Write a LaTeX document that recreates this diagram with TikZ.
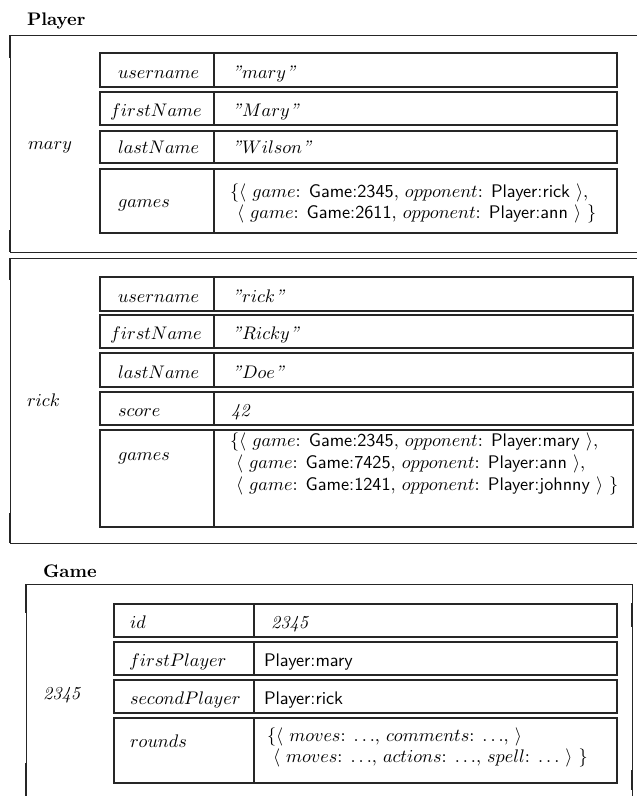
\documentclass[tikz,border=0pt]{standalone}
\begin{document}
\begin{tikzpicture}[x=0.549pt,y=-0.549pt,
  frame/.style={line width=0.5pt, draw=black!85},
  edgebit/.style={line width=1.1pt, draw=black!85},
  cell/.style={line width=0.6pt, draw=black!85},
  txt/.style={anchor=base west, inner sep=0pt, outer sep=0pt},
  title/.style={txt, font=\bfseries}]
\useasboundingbox (0,0) rectangle (636,796);

% ---------------- Player ----------------
\node[title] (tPlayer) at (27,25) {Player};

% mary frame
\draw[frame] (660,35) -- (10,35) -- (10,252) -- (660,252);
\draw[edgebit] (10,35) -- (10,58);
\draw[edgebit] (10,230) -- (10,252);
\node[txt] (lmary) at (28,149) {$mary$};

\draw[cell] (100,53) rectangle (617,87);   \draw[cell] (214,53) -- (214,87);
\draw[cell] (100,92) rectangle (617,125);  \draw[cell] (214,92) -- (214,125);
\draw[cell] (100,131) rectangle (617,163); \draw[cell] (214,131) -- (214,163);
\draw[cell] (100,169) rectangle (617,233); \draw[cell] (214,169) -- (214,233);

\node[txt] (mk1) at (118,78)  {$username$};
\node[txt] (mk2) at (110,116) {$firstName$};
\node[txt] (mk3) at (118,153) {$lastName$};
\node[txt] (mk4) at (118,207) {$games$};
\node[txt] (mv1) at (232,78)  {\textit{”}$mary$\textit{”}};
\node[txt] (mv2) at (232,116) {\textit{”}$Mary$\textit{”}};
\node[txt] (mv3) at (232,153) {\textit{”}$Wilson$\textit{”}};
\node[txt] (mv4a) at (230,197) {$\{\langle$ $game$: \textsf{Game:2345}, $opponent$: \textsf{Player:rick} $\rangle$,};
\node[txt] (mv4b) at (237,218) {$\langle$ $game$: \textsf{Game:2611}, $opponent$: \textsf{Player:ann} $\rangle$ $\}$};

% rick frame
\draw[frame] (660,258) -- (10,258) -- (10,543) -- (660,543);
\draw[edgebit] (10,258) -- (10,280);
\draw[edgebit] (10,513) -- (10,543);
\node[txt] (lrick) at (27,406) {$rick$};

\draw[cell] (100,277) rectangle (633,311); \draw[cell] (214,277) -- (214,311);
\draw[cell] (100,315) rectangle (633,348); \draw[cell] (214,315) -- (214,348);
\draw[cell] (100,353) rectangle (633,387); \draw[cell] (214,353) -- (214,387);
\draw[cell] (100,392) rectangle (633,425); \draw[cell] (214,392) -- (214,425);
\draw[cell] (100,430) rectangle (633,527); \draw[cell] (214,430) -- (214,527);

\node[txt] (rk1) at (118,302) {$username$};
\node[txt] (rk2) at (110,339) {$firstName$};
\node[txt] (rk3) at (118,378) {$lastName$};
\node[txt] (rk4) at (118,416) {$score$};
\node[txt] (rk5) at (118,460) {$games$};
\node[txt] (rv1) at (232,302) {\textit{”}$rick$\textit{”}};
\node[txt] (rv2) at (232,339) {\textit{”}$Ricky$\textit{”}};
\node[txt] (rv3) at (232,378) {\textit{”}$Doe$\textit{”}};
\node[txt] (rv4) at (231,416) {\textit{42}};
\node[txt] (rv5a) at (230,446) {$\{\langle$ $game$: \textsf{Game:2345}, $opponent$: \textsf{Player:mary} $\rangle$,};
\node[txt] (rv5b) at (236,468) {$\langle$ $game$: \textsf{Game:7425}, $opponent$: \textsf{Player:ann} $\rangle$,};
\node[txt] (rv5c) at (236,490) {$\langle$ $game$: \textsf{Game:1241}, $opponent$: \textsf{Player:johnny} $\rangle$ $\}$};

% ---------------- Game ----------------
\node[title] (tGame) at (43,577) {Game};
\draw[frame] (26,800) -- (26,584) -- (632,584) -- (632,800);
\draw[edgebit] (26,584) -- (26,613);
\draw[edgebit] (26,763) -- (26,800);
\draw[edgebit] (632,603) -- (632,627);
\draw[edgebit] (632,770) -- (632,790);
\node[txt] (lgame) at (43,699) {\textit{2345}};

\draw[cell] (114,604) rectangle (617,637); \draw[cell] (254,604) -- (254,637);
\draw[cell] (114,642) rectangle (617,675); \draw[cell] (254,642) -- (254,675);
\draw[cell] (114,680) rectangle (617,713); \draw[cell] (254,680) -- (254,713);
\draw[cell] (114,718) rectangle (617,783); \draw[cell] (254,718) -- (254,783);

\node[txt] (gk1) at (130,628) {$id$};
\node[txt] (gk2) at (129,666) {$firstPlayer$};
\node[txt] (gk3) at (130,704) {$secondPlayer$};
\node[txt] (gk4) at (130,747) {$rounds$};
\node[txt] (gv1) at (271,628) {\textit{2345}};
\node[txt] (gv2) at (264,666) {\textsf{Player:mary}};
\node[txt] (gv3) at (264,704) {\textsf{Player:rick}};
\node[txt] (gv4a) at (267,741) {$\{\langle$ $moves$: $\ldots$, $comments$: $\ldots$, $\rangle$};
\node[txt] (gv4b) at (273,762) {$\langle$ $moves$: $\ldots$, $actions$: $\ldots$, $spell$: $\ldots$ $\rangle$ $\}$};
\end{tikzpicture}
\end{document}
